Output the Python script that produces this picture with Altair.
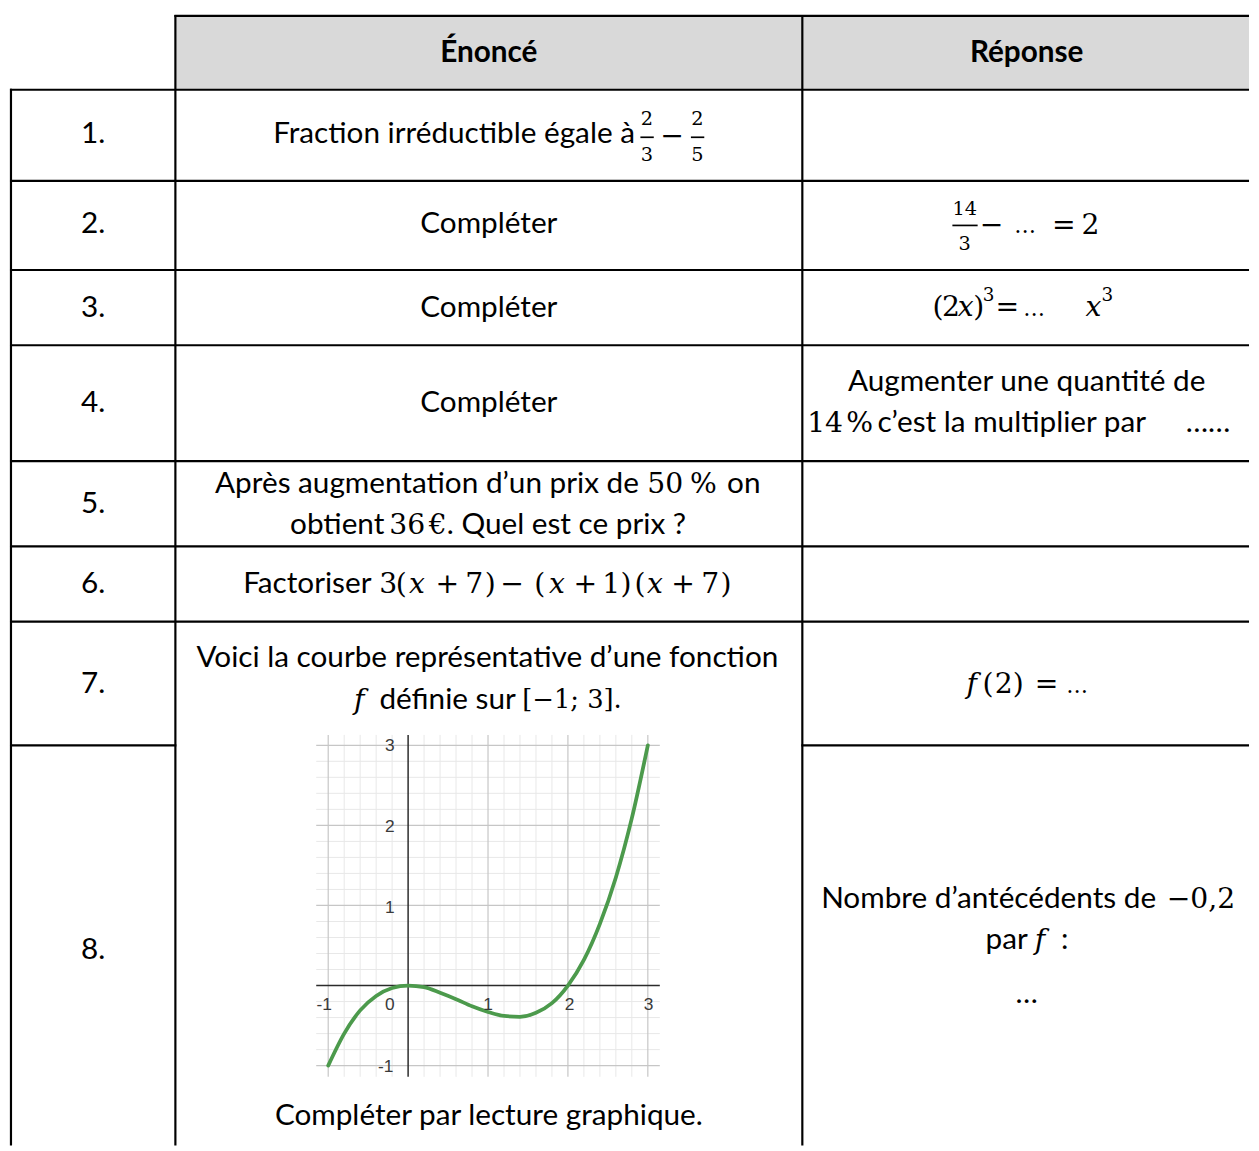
import altair as alt
import pandas as pd

# ---------------------------------------------------------------- values
HEADERS = ["Énoncé", "Réponse"]
ROW_LABELS = ["1.", "2.", "3.", "4.", "5.", "6.", "7.", "8."]

# curve of f (x, f(x))
CURVE_X = [-1.0, -0.8, -0.6, -0.4, -0.2, 0.0, 0.2, 0.4, 0.6, 0.8, 1.0,
           1.2, 1.4, 1.6, 1.8, 2.0, 2.2, 2.4, 2.6, 2.8, 3.0]
CURVE_Y = [-1.0, -0.6, -0.31, -0.13, -0.03, 0.0, -0.02, -0.09, -0.17, -0.26, -0.33,
           -0.38, -0.39, -0.34, -0.22, 0.0, 0.32, 0.77, 1.35, 2.09, 3.0]
MINOR_GRID = [-0.8, -0.6, -0.4, -0.2, 0.2, 0.4, 0.6, 0.8, 1.2, 1.4, 1.6, 1.8,
              2.2, 2.4, 2.6, 2.8]
MAJOR_GRID = [-1.0, 1.0, 2.0, 3.0]
X_TICKS = [-1.0, 0.0, 1.0, 2.0, 3.0]
X_TICK_LABELS = ["-1", "0", "1", "2", "3"]
Y_TICKS = [3.0, 2.0, 1.0, -1.0]
Y_TICK_LABELS = ["3", "2", "1", "-1"]

# ---------------------------------------------------------------- layout (reference pixels)
ROW_CENTERS = [128, 219, 303, 399, 501, 582, 683, 952]
COL1_X, COL2_X, COL3_X = 90, 489.5, 1032.5

# (text, x, y, style, align)
PIECES = [
    (HEADERS[0], COL2_X, 46, "head", "center"),
    (HEADERS[1], COL3_X, 46, "head", "center"),
    # row 1
    ("Fraction irréductible égale à", 637, 128, "body", "right"),
    ("2", 649, 113, "frac", "center"), ("3", 649, 149, "frac", "center"),
    ("−", 674.6, 130, "math", "center"),
    ("2", 700, 113, "frac", "center"), ("5", 700, 149, "frac", "center"),
    # row 2
    ("Compléter", COL2_X, 219, "body", "center"),
    ("14", 970, 203, "frac", "center"), ("3", 970, 239, "frac", "center"),
    ("−", 997, 220, "math", "center"), ("…", 1031, 221, "ell", "center"),
    ("=", 1070, 220, "math", "center"), ("2", 1097, 220, "math", "center"),
    # row 3
    ("Compléter", COL2_X, 303, "body", "center"),
    ("(", 943, 302, "math", "center"), ("2", 956, 302, "math", "center"),
    ("x", 971, 302, "mathi", "center"), (")", 984, 302, "math", "center"),
    ("3", 994, 290, "sup", "center"), ("=", 1013, 302, "math", "center"),
    ("…", 1040, 304, "ell", "center"), ("x", 1100, 302, "mathi", "center"),
    ("3", 1114, 290, "sup", "center"),
    # row 4
    ("Compléter", COL2_X, 399, "body", "center"),
    ("Augmenter une quantité de", COL3_X, 378, "body", "center"),
    ("14", 829, 420, "math", "center"), ("%", 864, 420, "math", "center"),
    ("c’est la multiplier par", 882, 420, "body", "left"),
    ("……", 1193, 420, "body", "left"),
    # row 5
    ("Après augmentation d’un prix de", 641, 481, "body", "right"),
    ("50", 667.5, 481, "math", "center"), ("%", 706, 481, "math", "center"),
    ("on", 730, 481, "body", "left"),
    ("obtient", 384, 523, "body", "right"),
    ("36", 407, 523, "math", "center"), ("€", 438, 523, "math", "center"),
    (". Quel est ce prix ?", 447, 523, "body", "left"),
    # row 6
    ("Factoriser", 371, 582, "body", "right"),
    ("3", 388, 582, "math", "center"), ("(", 401, 582, "math", "center"),
    ("x", 417, 582, "mathi", "center"), ("+", 447.5, 582, "math", "center"),
    ("7", 474.8, 582, "math", "center"), (")", 491, 582, "math", "center"),
    ("−", 513, 582, "math", "center"), ("(", 541, 582, "math", "center"),
    ("x", 558.3, 582, "mathi", "center"), ("+", 586.8, 582, "math", "center"),
    ("1", 613, 582, "math", "center"), (")", 628, 582, "math", "center"),
    ("(", 642.2, 582, "math", "center"), ("x", 657.3, 582, "mathi", "center"),
    ("+", 685.7, 582, "math", "center"), ("7", 713, 582, "math", "center"),
    (")", 729, 582, "math", "center"),
    # row 7
    ("Voici la courbe représentative d’une fonction", 488, 657, "body", "center"),
    ("f", 358.7, 699, "mathi", "center"),
    ("définie sur", 379, 699, "body", "left"),
    ("[−1; 3].", 573.5, 699, "mathsm", "center"),
    ("f", 977, 683, "mathi", "center"), ("(", 993.5, 683, "math", "center"),
    ("2", 1009.4, 683, "math", "center"), (")", 1024, 683, "math", "center"),
    ("=", 1052.5, 683, "math", "center"), ("…", 1083.5, 685, "ell", "center"),
    # row 8
    ("Nombre d’antécédents de", 825, 900, "body", "left"),
    ("−0,2", 1208.5, 900, "math", "center"),
    ("par", 991, 942, "body", "left"), ("f", 1046, 942, "mathi", "center"),
    (":", 1071, 942, "body", "center"),
    ("…", COL3_X, 996, "body", "center"),
    ("Compléter par lecture graphique.", COL2_X, 1119, "body", "center"),
]
for lab, yc in zip(ROW_LABELS, ROW_CENTERS):
    PIECES.append((lab, COL1_X, yc, "body", "center"))

STYLES = {
    "head": dict(font="Lato", fontSize=30, fontWeight="bold"),
    "body": dict(font="Lato", fontSize=30),
    "math": dict(font="DejaVu Serif", fontSize=28.5),
    "mathsm": dict(font="DejaVu Serif", fontSize=26),
    "mathi": dict(font="DejaVu Serif", fontSize=28.5, fontStyle="italic"),
    "frac": dict(font="DejaVu Serif", fontSize=19.5),
    "sup": dict(font="DejaVu Serif", fontSize=18.5),
    "ell": dict(font="DejaVu Serif", fontSize=22),
}

# table borders (x, x2, y, y2)
RIGHT = 1257
H_LINES = [(172, RIGHT, 8.5), (6, RIGHT, 83), (6, RIGHT, 175), (6, RIGHT, 265),
           (6, RIGHT, 341), (6, RIGHT, 458), (6, RIGHT, 544), (6, RIGHT, 620),
           (6, 174, 745), (805, RIGHT, 745)]
V_LINES = [(7, 82, 1149), (173, 7.5, 1149), (806, 7.5, 1149)]
FRACTION_BARS = [(642.5, 656, 131), (693.5, 707, 131), (957.5, 983, 220)]

# ---------------------------------------------------------------- scales
TX = alt.Scale(domain=[6, 1257], range=[0, 1251], nice=False, zero=False)
TY = alt.Scale(domain=[6, 1149], range=[0, 1143], nice=False, zero=False)
GX = alt.Scale(domain=[-1, 3], range=[321.3, 644.0], nice=False, zero=False)
GY = alt.Scale(domain=[-1, 3], range=[1062.3, 738.9], nice=False, zero=False)


def tpos(chart, x="x", y="y", x2=None, y2=None):
    enc = dict(x=alt.X(f"{x}:Q", scale=TX, axis=None),
               y=alt.Y(f"{y}:Q", scale=TY, axis=None))
    if x2:
        enc["x2"] = alt.X2(f"{x2}:Q")
    if y2:
        enc["y2"] = alt.Y2(f"{y2}:Q")
    return chart.encode(**enc)


def gpos(chart, x="x", y="y", x2=None, y2=None):
    enc = dict(x=alt.X(f"{x}:Q", scale=GX, axis=None),
               y=alt.Y(f"{y}:Q", scale=GY, axis=None))
    if x2:
        enc["x2"] = alt.X2(f"{x2}:Q")
    if y2:
        enc["y2"] = alt.Y2(f"{y2}:Q")
    return chart.encode(**enc)


# ---------------------------------------------------------------- table layers
header_df = pd.DataFrame([{"x": 173, "x2": RIGHT, "y": 8.5, "y2": 83}])
header = tpos(alt.Chart(header_df).mark_rect(color="#d9d9d9"), "x", "y", "x2", "y2")

lines_rows = [{"x": a, "x2": b, "y": c, "y2": c} for a, b, c in H_LINES]
lines_rows += [{"x": a, "x2": a, "y": b, "y2": c} for a, b, c in V_LINES]
borders = tpos(alt.Chart(pd.DataFrame(lines_rows)).mark_rule(color="black", strokeWidth=2.2),
               "x", "y", "x2", "y2")

bars_df = pd.DataFrame([{"x": a, "x2": b, "y": c} for a, b, c in FRACTION_BARS])
bars = tpos(alt.Chart(bars_df).mark_rule(color="black", strokeWidth=1.7), "x", "y", "x2")

text_layers = []
groups = {}
for t, x, y, st, al in PIECES:
    groups.setdefault((st, al), []).append({"t": t, "x": x, "y": y})
for (st, al), rows in groups.items():
    ch = alt.Chart(pd.DataFrame(rows)).mark_text(
        baseline="middle", align=al, color="black", **STYLES[st])
    text_layers.append(tpos(ch).encode(text="t:N"))

table = alt.layer(header, borders, bars, *text_layers)

# ---------------------------------------------------------------- graph layers
GX0, GX1, GY0, GY1 = -1.15, 3.15, -1.14, 3.13
minor_v = pd.DataFrame([{"x": v, "y": GY0, "y2": GY1} for v in MINOR_GRID])
minor_h = pd.DataFrame([{"x": GX0, "x2": GX1, "y": v} for v in MINOR_GRID])
major_v = pd.DataFrame([{"x": v, "y": GY0, "y2": GY1} for v in MAJOR_GRID])
major_h = pd.DataFrame([{"x": GX0, "x2": GX1, "y": v} for v in MAJOR_GRID])

g_minor_v = gpos(alt.Chart(minor_v).mark_rule(color="#e8e8e8", strokeWidth=1), y2="y2")
g_minor_h = gpos(alt.Chart(minor_h).mark_rule(color="#e8e8e8", strokeWidth=1), x2="x2")
g_major_v = gpos(alt.Chart(major_v).mark_rule(color="#c6c6c6", strokeWidth=1.2), y2="y2")
g_major_h = gpos(alt.Chart(major_h).mark_rule(color="#c6c6c6", strokeWidth=1.2), x2="x2")

axes_df = pd.DataFrame([{"x": GX0, "x2": GX1, "y": 0.0, "y2": 0.0},
                        {"x": 0.0, "x2": 0.0, "y": GY0, "y2": GY1}])
g_axes = gpos(alt.Chart(axes_df).mark_rule(color="#2b2b2b", strokeWidth=1.5), x2="x2", y2="y2")

curve_df = pd.DataFrame({"x": CURVE_X, "y": CURVE_Y})
g_curve = gpos(alt.Chart(curve_df).mark_line(
    color="#4c9a4c", strokeWidth=3.8, interpolate="monotone", strokeCap="round"))

xl_df = pd.DataFrame({"x": X_TICKS, "t": X_TICK_LABELS})
xl_df["x"] = [-1.05, -0.23, 1.0, 2.02, 3.01]
xl_df["y"] = -0.24
yl_df = pd.DataFrame({"y": Y_TICKS, "t": Y_TICK_LABELS})
yl_df["y"] = [2.99, 1.98, 0.97, -1.02]
yl_df["x"] = [-0.23, -0.23, -0.23, -0.28]
g_xl = gpos(alt.Chart(xl_df).mark_text(font="Liberation Sans", fontSize=17.5, color="#3a3a3a",
                                        baseline="middle", align="center")).encode(text="t:N")
g_yl = gpos(alt.Chart(yl_df).mark_text(font="Liberation Sans", fontSize=17.5, color="#3a3a3a",
                                        baseline="middle", align="center")).encode(text="t:N")

graph = alt.layer(g_minor_v, g_minor_h, g_major_v, g_major_h, g_axes, g_curve, g_xl, g_yl)

chart = alt.layer(table, graph).resolve_scale(x="independent", y="independent").properties(
    width=1251, height=1143, padding=0, background="white"
).configure_view(stroke=None)

chart.save("out.html", embed_options={"renderer": "svg", "actions": False})
